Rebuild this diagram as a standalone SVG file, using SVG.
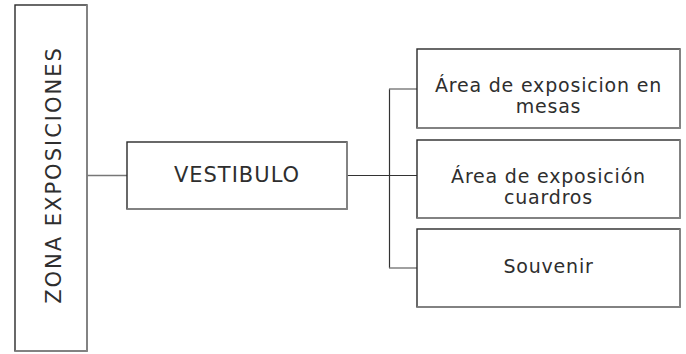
<svg xmlns="http://www.w3.org/2000/svg" width="686" height="354" viewBox="0 0 686 354">
<style>
.box{fill:#fff;stroke:#2a2a2a;stroke-width:1.4}
.shadow{fill:none;stroke:#8a8a8a;stroke-width:1.6}
.lbl{font-family:"DejaVu Sans","Liberation Sans",sans-serif;font-size:19px;fill:#2e2e2e;text-anchor:middle;letter-spacing:0.8px}
.con{fill:none;stroke:#333;stroke-width:1.2}
.con2{fill:none;stroke:#777;stroke-width:1.4}
</style>
<rect width="686" height="354" fill="#fff"/>
<g id="connectors">
<line class="con2" x1="87" y1="175.5" x2="127" y2="175.5"/>
<line class="con" x1="347" y1="175.5" x2="417" y2="175.5"/>
<line class="con" x1="389.5" y1="89" x2="389.5" y2="268"/>
<line class="con2" x1="389" y1="89" x2="417" y2="89"/>
<line class="con2" x1="389" y1="268" x2="417" y2="268"/>
</g>
<g id="zona">
<rect class="box" x="15" y="5" width="72" height="346" stroke-width="2.2"/>
<path class="shadow" d="M87 5 V351 H15"/>
<text class="lbl" transform="translate(61 175) rotate(-90)" style="font-size:21px;letter-spacing:2px">ZONA EXPOSICIONES</text>
</g>
<g id="vestibulo">
<rect class="box" x="127" y="142" width="220" height="67"/>
<path class="shadow" d="M347 142 V209 H127"/>
<text class="lbl" x="237" y="182" style="font-size:21px;letter-spacing:1px">VESTIBULO</text>
</g>
<g id="mesas">
<rect class="box" x="417" y="49" width="263" height="79"/>
<path class="shadow" d="M680 49 V128 H417"/>
<text class="lbl"><tspan x="548.5" y="92">Área de exposicion en</tspan><tspan x="548.5" y="113">mesas</tspan></text>
</g>
<g id="cuadros">
<rect class="box" x="417" y="140" width="263" height="78"/>
<path class="shadow" d="M680 140 V218 H417"/>
<text class="lbl"><tspan x="548.5" y="183">Área de exposición</tspan><tspan x="548.5" y="204">cuardros</tspan></text>
</g>
<g id="souvenir">
<rect class="box" x="417" y="229" width="263" height="78"/>
<path class="shadow" d="M680 229 V307 H417"/>
<text class="lbl" x="548.5" y="273">Souvenir</text>
</g>
</svg>
